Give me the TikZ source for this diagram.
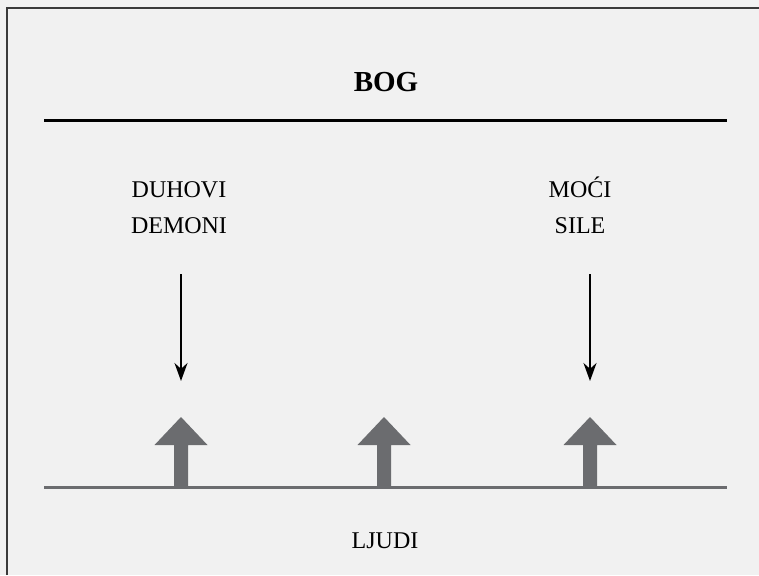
\documentclass[tikz,border=0pt]{standalone}
\usepackage{fontspec}
\setmainfont{Liberation Serif}
\usetikzlibrary{arrows.meta}
\definecolor{bggray}{HTML}{F1F1F1}
\definecolor{framegray}{HTML}{3A3A3A}
\definecolor{upgray}{HTML}{6B6C6F}
\begin{document}
\begin{tikzpicture}[x=1pt,y=-1pt,
    word/.style={font=\fontsize{24}{36}\selectfont, align=center, inner sep=0pt},
    down/.style={-{Stealth[length=18pt,width=13pt]}, line width=2pt}]
  \useasboundingbox (0,0) rectangle (759,575);
  \fill[bggray] (0,0) rectangle (759,575);
  \draw[line width=2pt, framegray] (7,575) -- (7,8) -- (759,8);
  \draw
    (386,82) node[word, font=\fontsize{29}{36}\selectfont\bfseries] (bog){BOG}
    (179,208) node[word] (duhovi){DUHOVI\\DEMONI}
    (580,208) node[word] (moci){MO\smash{Ć}I\\SILE}
    (385,541) node[word] (ljudi){LJUDI};
  \coordinate (top-l) at (44,120);
  \coordinate (top-r) at (727,120);
  \coordinate (low-l) at (44,487);
  \coordinate (low-r) at (727,487);
  \draw[line width=3pt] (top-l) -- (top-r);
  \draw[line width=3pt, upgray] (low-l) -- (low-r);
  \coordinate (d1-a) at (181,274);
  \coordinate (d1-b) at (181,381);
  \coordinate (d2-a) at (590,274);
  \coordinate (d2-b) at (590,381);
  \begin{scope}[down]
    \draw (d1-a) to (d1-b);
    \draw (d2-a) to (d2-b);
  \end{scope}
  % gray block arrows standing on the lower line
  \foreach \x in {181,384,590}
    \fill[upgray] (\x-7,487) -- (\x-7,445) -- (\x-26.5,445) -- (\x,417)
      -- (\x+26.5,445) -- (\x+7,445) -- (\x+7,487) -- cycle;
\end{tikzpicture}
\end{document}
